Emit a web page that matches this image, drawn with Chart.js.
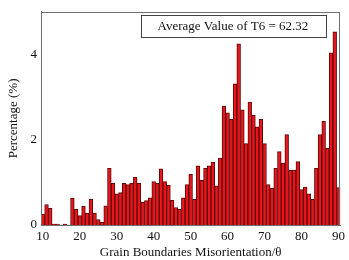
<!DOCTYPE html>
<html>
<head>
<meta charset="utf-8">
<script src="https://cdn.jsdelivr.net/npm/chart.js@4/dist/chart.umd.min.js"></script>
<style>
  html, body { margin: 0; padding: 0; background: #ffffff; }
  #wrap { width: 349px; height: 260px; }
</style>
</head>
<body>
<div id="wrap"><canvas id="c" width="349" height="260"></canvas></div>
<script>
// Misorientation angle categories (degrees)
const categories = [10,11,12,13,14,15,16,17,18,19,20,21,22,23,24,25,26,27,28,29,
                    30,31,32,33,34,35,36,37,38,39,40,41,42,43,44,45,46,47,48,49,
                    50,51,52,53,54,55,56,57,58,59,60,61,62,63,64,65,66,67,68,69,
                    70,71,72,73,74,75,76,77,78,79,80,81,82,83,84,85,86,87,88,89,90];
// Percentage (%) per degree
const percentages = [0.25,0.48,0.39,0.02,0.02,0,0.02,0,0.63,0.37,
                     0.22,0.44,0.28,0.60,0.28,0.13,0.07,0.45,1.33,0.98,
                     0.73,0.76,0.98,0.95,0.98,1.12,0.98,0.53,0.57,0.64,
                     1.02,0.98,1.32,1.02,0.93,0.58,0.41,0.37,0.64,0.95,
                     1.19,0.60,1.39,1.05,1.33,1.39,1.47,0.92,1.57,2.79,
                     2.63,2.48,3.31,4.25,2.70,1.91,2.88,2.58,2.30,2.48,
                     1.91,0.95,0.86,1.33,1.72,1.45,2.12,1.28,1.29,1.49,
                     0.83,0.89,0.73,0.60,1.33,2.12,2.44,1.80,4.04,4.53,0.88];
const yTicks = [0, 2, 4];
const xTickStep = 10;
const annotationText = 'Average Value of T6 = 62.32';

const serif = '"Liberation Serif", "Times New Roman", serif';

const framePlugin = {
  id: 'frame',
  afterDraw(chart) {
    const {ctx, chartArea: a} = chart;
    ctx.save();
    ctx.strokeStyle = '#6e6e6e';
    ctx.lineWidth = 1;
    ctx.strokeRect(Math.round(a.left) + 0.5, Math.round(a.top) + 0.5,
                   Math.round(a.right - a.left) - 1, Math.round(a.bottom - a.top));
    // annotation box
    ctx.font = '13px ' + serif;
    const w = ctx.measureText(annotationText).width;
    const bw = w + 34, bh = 22;
    const bx = a.right - 15 - bw, by = a.top + 3;
    ctx.fillStyle = '#ffffff';
    ctx.fillRect(bx, by, bw, bh);
    ctx.strokeStyle = '#444444';
    ctx.strokeRect(Math.round(bx) + 0.5, Math.round(by) + 0.5, Math.round(bw), Math.round(bh));
    ctx.fillStyle = '#111111';
    ctx.textAlign = 'center';
    ctx.textBaseline = 'middle';
    ctx.fillText(annotationText, bx + bw / 2, by + bh / 2 + 1);
    ctx.restore();
  }
};

new Chart(document.getElementById('c'), {
  type: 'bar',
  data: {
    labels: categories,
    datasets: [{
      data: percentages,
      backgroundColor: '#e8161c',
      borderColor: '#5a0808',
      borderWidth: 1,
      barPercentage: 1,
      categoryPercentage: 1
    }]
  },
  options: {
    responsive: false,
    animation: false,
    devicePixelRatio: 1,
    layout: { padding: { top: 2, right: 7, left: 0, bottom: 0 } },
    plugins: { legend: { display: false }, tooltip: { enabled: false } },
    scales: {
      x: {
        type: 'category',
        grid: { display: false, drawTicks: false },
        border: { display: true, color: '#6e6e6e' },
        ticks: {
          autoSkip: false,
          maxRotation: 0,
          padding: 4,
          color: '#111111',
          font: { family: serif, size: 13 },
          callback: function (v, i) {
            const lab = categories[i];
            return lab % xTickStep === 0 ? String(lab) : '';
          }
        },
        title: {
          display: true,
          text: 'Grain Boundaries Misorientation/θ',
          color: '#111111',
          font: { family: serif, size: 13 },
          padding: { top: 1, bottom: 0 }
        },
        afterFit(scale) { scale.height = 35; }
      },
      y: {
        min: 0,
        max: 5,
        grid: { display: false, drawTicks: false },
        border: { display: true, color: '#6e6e6e' },
        afterBuildTicks(scale) { scale.ticks = yTicks.map(v => ({ value: v })); },
        ticks: {
          padding: 4,
          color: '#111111',
          font: { family: serif, size: 13 }
        },
        title: {
          display: true,
          text: 'Percentage (%)',
          color: '#111111',
          font: { family: serif, size: 13 },
          padding: { top: 6, bottom: 0 }
        },
        afterFit(scale) { scale.width = 41; }
      }
    }
  },
  plugins: [framePlugin]
});
</script>
</body>
</html>
